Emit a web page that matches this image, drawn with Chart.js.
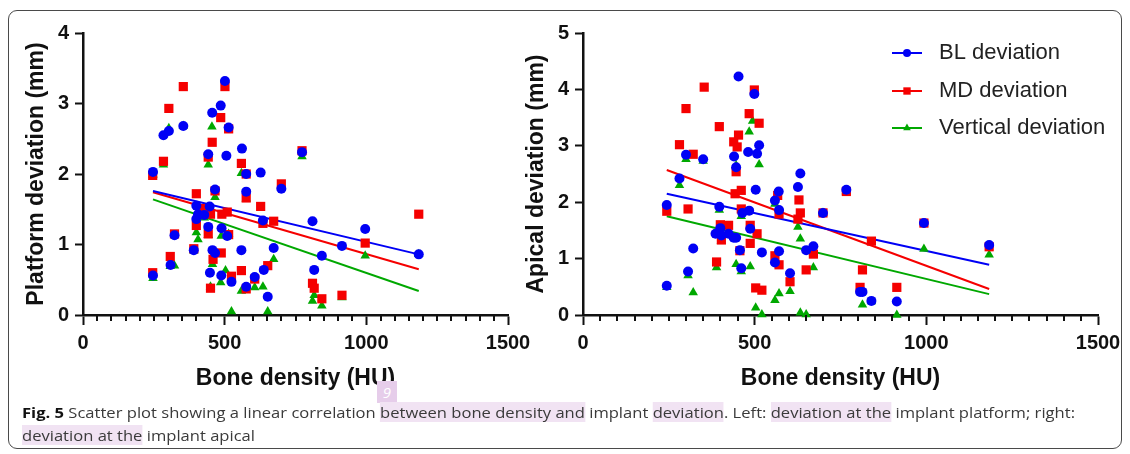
<!DOCTYPE html>
<html>
<head>
<meta charset="utf-8">
<script src="https://cdn.jsdelivr.net/npm/chart.js@4.4.0/dist/chart.umd.min.js"></script>
<style>
  body { margin: 0; background: #fff; }
  #wrap { position: relative; width: 1130px; height: 454px; overflow: hidden; background: #fff; }
  #frame { position: absolute; left: 8px; top: 10px; width: 1112px; height: 437px; border: 1.5px solid #4a4a4a; border-radius: 9px; }
  canvas { position: absolute; top: 0; }
  #left { left: 0; }
  #right { left: 500px; }
  #cap { position: absolute; left: 22px; top: 401px; font-family: "Open Sans", sans-serif; font-size: 15px; line-height: 23px; color: #3a3a3a; white-space: nowrap; transform-origin: 0 0; }
  #cap b { color: #111; }
  .hl { background: #f1e3f3; }
  #badge { position: absolute; left: 377px; top: 381px; width: 20px; height: 22px; background: #e6cdea; color: #fff; font: italic 15px "Open Sans", sans-serif; text-align: center; line-height: 22px; }
</style>
</head>
<body>
<div id="wrap">
  <div id="frame"></div>
  <canvas id="left" width="540" height="400"></canvas>
  <canvas id="right" width="630" height="400"></canvas>
  <div id="badge">9</div>
  <div id="cap"><span id="line1"><b>Fig. 5</b> Scatter plot showing a linear correlation <span class="hl">between bone density and</span> implant <span class="hl">deviation</span>. Left: <span class="hl">deviation at the</span> implant platform; right:</span><br><span class="hl">deviation at the</span> implant apical</div>
</div>
<script>
// ---- data: [bone density (HU), deviation (mm)] ----
var platformBL = [[247,2.03],[247,0.56],[284,2.55],[303,2.61],[309,0.71],[323,1.13],[354,2.68],[391,0.92],[400,1.55],[400,1.36],[406,1.43],[428,1.42],[442,1.25],[447,1.54],[448,0.60],[442,2.28],[456,2.87],[457,0.92],[466,0.88],[466,1.78],[486,2.97],[488,0.56],[489,1.23],[501,3.32],[506,2.26],[509,1.12],[514,2.66],[524,0.47],[559,0.92],[561,2.36],[576,2.00],[576,1.75],[576,0.40],[606,0.54],[627,2.02],[635,1.34],[638,0.64],[652,0.26],[673,0.95],[700,1.79],[773,2.31],[810,1.33],[816,0.64],[843,0.84],[914,0.98],[996,1.22],[1185,0.86]];
var platformMD = [[246,1.98],[246,0.60],[284,2.18],[303,2.93],[308,0.83],[323,1.15],[354,3.24],[391,0.94],[400,1.72],[400,1.27],[424,1.51],[442,1.15],[442,2.24],[450,1.43],[450,0.38],[456,2.45],[459,0.79],[466,1.76],[486,2.80],[488,0.88],[490,1.43],[501,3.24],[509,1.46],[514,2.64],[514,1.14],[524,0.55],[559,2.15],[559,0.63],[576,1.66],[576,2.00],[576,0.37],[606,0.51],[627,1.54],[635,1.30],[652,0.70],[673,1.33],[700,1.86],[773,2.33],[810,0.45],[816,0.38],[843,0.23],[914,0.28],[996,1.02],[1185,1.43]];
var platformVert = [[247,0.52],[247,1.99],[284,2.13],[303,2.65],[308,0.69],[323,0.70],[354,2.68],[391,0.91],[400,1.17],[406,1.07],[428,1.38],[442,2.13],[442,1.13],[455,2.67],[450,0.40],[457,0.72],[466,1.67],[486,0.46],[488,1.12],[503,0.63],[514,1.15],[524,0.05],[559,0.34],[559,2.01],[576,1.65],[606,0.39],[635,0.40],[652,0.05],[673,0.79],[773,2.25],[810,0.20],[816,0.28],[843,0.13],[914,0.25],[996,0.84],[1185,0.86]];

var apicalBL = [[244,1.95],[244,0.52],[281,2.42],[300,2.84],[306,0.77],[321,1.18],[350,2.76],[386,1.44],[397,1.92],[400,1.54],[403,1.41],[424,1.44],[439,1.37],[440,2.81],[446,2.62],[446,1.37],[453,4.23],[457,1.15],[461,0.83],[464,1.81],[481,2.89],[484,1.85],[487,1.53],[499,3.92],[503,2.22],[507,2.86],[513,3.01],[521,1.11],[559,2.03],[559,0.93],[570,2.19],[571,1.86],[571,1.13],[603,0.74],[626,2.27],[633,2.51],[650,1.15],[671,1.22],[699,1.81],[767,2.22],[807,0.41],[814,0.41],[840,0.25],[914,0.24],[993,1.63],[1183,1.24]];
var apicalMD = [[244,1.84],[281,3.02],[300,3.66],[306,1.88],[321,2.85],[353,4.04],[389,0.94],[397,3.34],[400,1.60],[403,1.33],[424,1.59],[439,3.07],[443,2.15],[446,2.54],[449,2.98],[453,3.19],[457,1.14],[461,2.21],[461,1.88],[484,3.57],[487,1.59],[487,1.27],[499,3.99],[503,0.48],[507,1.44],[513,3.40],[521,0.44],[559,1.05],[567,2.12],[571,0.89],[571,1.79],[603,0.59],[629,2.04],[633,1.81],[626,1.70],[650,0.80],[671,1.08],[699,1.81],[767,2.19],[807,0.49],[814,0.80],[840,1.31],[914,0.49],[993,1.63],[1183,1.21]];
var apicalVert = [[244,0.49],[281,2.30],[300,2.76],[306,0.70],[321,0.40],[350,2.73],[389,0.84],[397,1.86],[403,1.31],[446,0.90],[446,2.65],[461,0.77],[461,1.75],[484,3.25],[487,0.86],[494,3.44],[503,0.13],[513,2.67],[521,0.01],[559,0.26],[559,1.97],[571,0.38],[603,0.42],[626,1.56],[633,1.35],[633,0.04],[650,0.01],[671,0.84],[699,1.81],[767,2.19],[814,0.18],[840,0.24],[914,0.00],[993,1.17],[1183,1.07]];

// regression lines: [y at start, y at end]
var platformFitX = [247, 1185];
var platformFitBL = [1.76, 0.86];
var platformFitMD = [1.74, 0.65];
var platformFitVert = [1.64, 0.34];
var apicalFitX = [244, 1183];
var apicalFitBL = [2.15, 0.89];
var apicalFitMD = [2.57, 0.46];
var apicalFitVert = [1.75, 0.37];

var xTickStep = 500;
var labels = ['BL deviation', 'MD deviation', 'Vertical deviation'];

var blue = '#0000f5', red = '#f50000', green = '#00a800';
var FONT = '"Liberation Sans", Arial, sans-serif';

// minor ticks every 50 HU on the x axis
var minorTicks = {
  id: 'minorTicks',
  afterDraw: function(chart) {
    var xs = chart.scales.x, ctx = chart.ctx;
    ctx.save();
    ctx.strokeStyle = '#111';
    ctx.lineWidth = 2;
    for (var v = 50; v < xs.max; v += 50) {
      if (v % xTickStep === 0) continue;
      var px = Math.round(xs.getPixelForValue(v));
      ctx.beginPath();
      ctx.moveTo(px, xs.top);
      ctx.lineTo(px, xs.top + 6);
      ctx.stroke();
    }
    ctx.restore();
  }
};

// legend drawn to the right of the apical plot
var sideLegend = {
  id: 'sideLegend',
  afterDraw: function(chart) {
    var ctx = chart.ctx;
    var rows = [53, 91, 128];
    ctx.save();
    for (var i = 0; i < 3; i++) {
      var ds = chart.data.datasets[i];
      var y = rows[i];
      ctx.strokeStyle = ds.borderColor;
      ctx.lineWidth = 2;
      ctx.beginPath();
      ctx.moveTo(392, y);
      ctx.lineTo(422, y);
      ctx.stroke();
      ctx.fillStyle = ds.backgroundColor;
      Chart.helpers.drawPoint(ctx, {pointStyle: ds.pointStyle, radius: ds.pointRadius * 0.8, borderWidth: 0, rotation: 0}, 407, y);
      ctx.fillStyle = '#222';
      ctx.font = '22px ' + FONT;
      ctx.textBaseline = 'middle';
      ctx.textAlign = 'left';
      ctx.fillText(ds.label, 439, y);
    }
    ctx.restore();
  }
};

function pts(arr) {
  return arr.map(function(p) { return {x: p[0], y: p[1]}; });
}

function fitLine(xs, ys, color) {
  return {
    data: [{x: xs[0], y: ys[0]}, {x: xs[1], y: ys[1]}],
    showLine: true, borderColor: color, borderWidth: 2,
    pointRadius: 0, clip: false
  };
}

function plain(v) { return String(v); }

function makeChart(id, yMax, yTitle, bl, md, vert, fitX, fitBL, fitMD, fitVert, plugins) {
  var ctx = document.getElementById(id).getContext('2d');
  return new Chart(ctx, {
    type: 'scatter',
    data: {
      datasets: [
        {label: labels[0], data: pts(bl), pointStyle: 'circle', pointRadius: 5, backgroundColor: blue, borderColor: blue, borderWidth: 0, clip: false},
        {label: labels[1], data: pts(md), pointStyle: 'rect', pointRadius: 6.5, backgroundColor: red, borderColor: red, borderWidth: 0, clip: false},
        {label: labels[2], data: pts(vert), pointStyle: 'triangle', pointRadius: 5.5, backgroundColor: green, borderColor: green, borderWidth: 0, clip: false},
        fitLine(fitX, fitBL, blue),
        fitLine(fitX, fitMD, red),
        fitLine(fitX, fitVert, green)
      ]
    },
    options: {
      responsive: false,
      animation: false,
      devicePixelRatio: 1,
      events: [],
      layout: {padding: {top: 33, left: 0, right: 32, bottom: 0}},
      plugins: {legend: {display: false}, tooltip: {enabled: false}},
      scales: {
        x: {
          type: 'linear', min: 0, max: 1500,
          afterFit: function(s) { s.height = 85; },
          ticks: {stepSize: xTickStep, padding: 6, maxRotation: 0, callback: plain, color: '#111', font: {family: FONT, size: 20, weight: 'bold'}},
          grid: {drawOnChartArea: false, drawTicks: true, tickLength: 10, tickWidth: 2, tickColor: '#111'},
          border: {color: '#111', width: 2.5},
          title: {display: true, text: 'Bone density (HU)', color: '#111', font: {family: FONT, size: 23, weight: 'bold'}, padding: {top: 0, bottom: 8}}
        },
        y: {
          min: 0, max: yMax,
          afterFit: function(s) { s.width = 83; },
          ticks: {stepSize: 1, padding: 6, callback: plain, color: '#111', font: {family: FONT, size: 20, weight: 'bold'}},
          grid: {drawOnChartArea: false, drawTicks: true, tickLength: 8, tickWidth: 2, tickColor: '#111'},
          border: {color: '#111', width: 2.5},
          title: {display: true, text: yTitle, color: '#111', font: {family: FONT, size: 23, weight: 'bold'}, padding: {top: 23, bottom: 0}}
        }
      }
    },
    plugins: plugins
  });
}

makeChart('left', 4, 'Platform deviation (mm)', platformBL, platformMD, platformVert,
  platformFitX, platformFitBL, platformFitMD, platformFitVert, [minorTicks]);
makeChart('right', 5, 'Apical deviation (mm)', apicalBL, apicalMD, apicalVert,
  apicalFitX, apicalFitBL, apicalFitMD, apicalFitVert, [minorTicks, sideLegend]);

// squeeze the caption so the first line spans the same width as in the figure
var cap = document.getElementById('cap');
var w = document.getElementById('line1').getBoundingClientRect().width;
cap.style.transform = 'scaleX(' + (1053 / w) + ')';
</script>
</body>
</html>
